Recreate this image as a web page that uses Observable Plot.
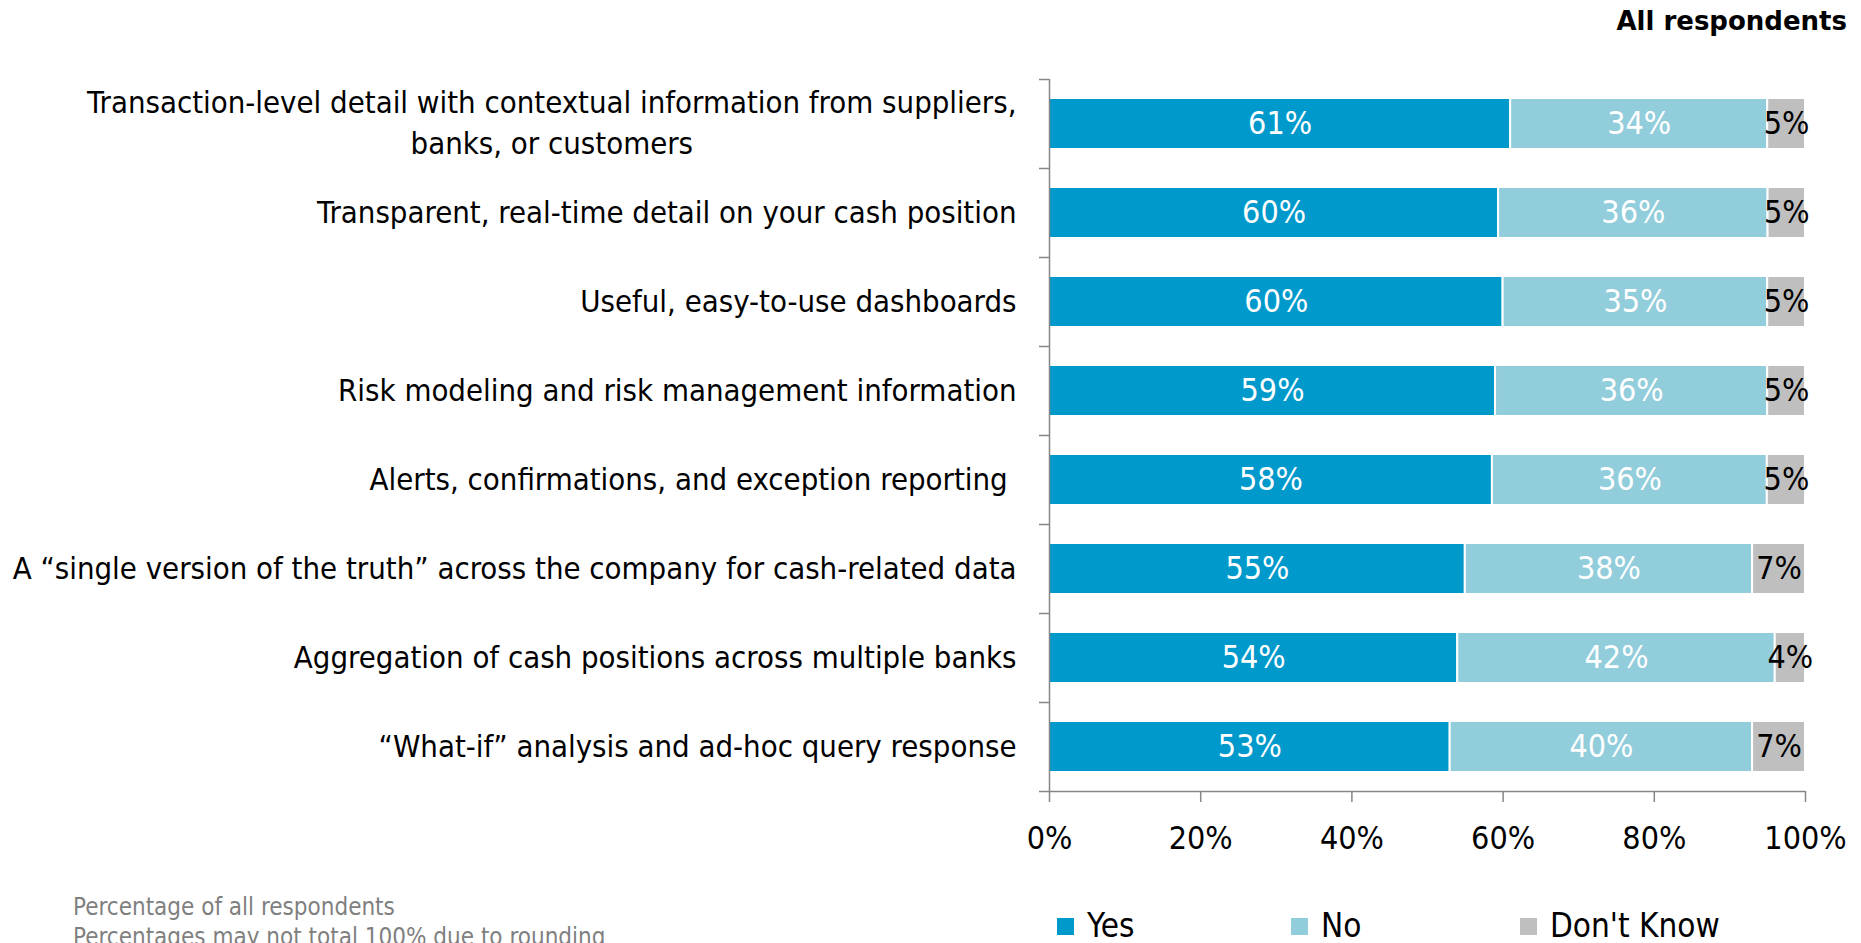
<!DOCTYPE html>
<html>
<head>
<meta charset="utf-8">
<script src="https://cdn.jsdelivr.net/npm/d3@7"></script>
<script src="https://cdn.jsdelivr.net/npm/@observablehq/plot@0.6"></script>
<style>
  html, body { margin: 0; padding: 0; background: #fff; width: 1861px; height: 943px; overflow: hidden; position: relative; }
  #chart { position: absolute; left: 0; top: 0; z-index: 0; }
  .title { position: absolute; right: 14px; top: 6px; font: bold 26px "DejaVu Sans", Verdana, sans-serif; color: #000; white-space: nowrap; z-index: 2; }
  .legend-item { position: absolute; top: 910px; height: 32px; display: flex; align-items: center; font-size: 33px; line-height: 32px; color: #000; white-space: nowrap; z-index: 2; }
  .legend-item .sw { width: 17px; height: 17px; margin-right: 13px; }
  .note { position: absolute; left: 73px; font-size: 24px; line-height: 30px; color: #7f7f7f; white-space: nowrap; z-index: 2; }
</style>
</head>
<body>
<div id="chart"></div>
<div class="title">All respondents</div>
<div id="legend"></div>
<div class="note" id="note1" style="top:892px">Percentage of all respondents</div>
<div class="note" id="note2" style="top:922px">Percentages may not total 100% due to rounding</div>
<script>
const FONT = '"Liberation Sans Narrow", "Arial Narrow", "DejaVu Sans Condensed", sans-serif';
document.querySelectorAll(".note").forEach(e => e.style.fontFamily = FONT);

// ---- data ----
const categories = [
  "Transaction-level detail with contextual information from suppliers,\nbanks, or customers",
  "Transparent, real-time detail on your cash position",
  "Useful, easy-to-use dashboards",
  "Risk modeling and risk management information",
  "Alerts, confirmations, and exception reporting ",
  "A \u201csingle version of the truth\u201d across the company for cash-related data",
  "Aggregation of cash positions across multiple banks",
  "\u201cWhat-if\u201d analysis and ad-hoc query response"
];
const yes      = [61, 60, 60, 59, 58, 55, 54, 53];
const no       = [34, 36, 35, 36, 36, 38, 42, 40];
const dontKnow = [5, 5, 5, 5, 5, 7, 4, 7];
const seriesNames = ["Yes", "No", "Don't Know"];
const seriesColors = ["#0099CC", "#92CDDC", "#BFBFBF"];
const xTicks = [0, 20, 40, 60, 80, 100];

const seriesValues = [yes, no, dontKnow];
const rows = categories.flatMap((cat, i) =>
  seriesNames.map((s, k) => ({cat, series: s, value: seriesValues[k][i]})));

// ---- layout ----
const W = 1861, H = 870, mL = 1049, mR = 56, mT = 79, mB = 79;
const step = (H - mT - mB) / categories.length;
const AXIS = "#868686";
const LABEL_GAP = 33, LINE_H = 41;

// fit category label font so the longest line spans like the reference
const ctx = document.createElement("canvas").getContext("2d");
ctx.font = `32px ${FONT}`;
const longest = Math.max(...categories.flatMap(c => c.split("\n")).map(l => ctx.measureText(l).width));
const LABEL_SIZE = Math.min(32, 32 * 1004 / longest);
ctx.font = `${LABEL_SIZE}px ${FONT}`;

const labelMarks = categories.flatMap(cat => {
  const lines = cat.split("\n");
  const w = Math.max(...lines.map(l => ctx.measureText(l).width));
  return lines.map((line, j) => Plot.text([cat], {
    y: d => d,
    frameAnchor: "left",
    textAnchor: "middle",
    dx: -LABEL_GAP - w / 2,
    dy: (j - (lines.length - 1) / 2) * LINE_H,
    text: () => line,
    fill: "black",
    fontSize: LABEL_SIZE
  }));
});

const chart = Plot.plot({
  width: W, height: H,
  marginLeft: mL, marginRight: mR, marginTop: mT, marginBottom: mB,
  style: {fontFamily: FONT, fontSize: "32px", color: "black", background: "white", overflow: "visible"},
  x: {domain: [0, 1], axis: null},
  y: {domain: categories, paddingInner: 0.43, paddingOuter: 0.215, axis: null},
  color: {domain: seriesNames, range: seriesColors},
  marks: [
    Plot.barX(rows, Plot.stackX({x: "value", y: "cat", fill: "series", offset: "normalize", stroke: "white", strokeWidth: 2})),
    Plot.text(rows, Plot.stackX({
      x: "value", y: "cat", z: "series", offset: "normalize",
      text: d => d.value + "%",
      fill: d => d.series === "Don't Know" ? "black" : "white",
      fontSize: 32
    })),
    Plot.ruleX([0], {stroke: AXIS, strokeWidth: 1.5}),
    Plot.ruleY([categories[categories.length - 1]], {dy: step / 2, stroke: AXIS, strokeWidth: 1.5, insetLeft: -10}),
    Plot.ruleY(categories, {y: d => d, x1: 0, x2: 0, insetLeft: -10, dy: -step / 2, stroke: AXIS, strokeWidth: 1.5}),
    Plot.axisX({
      ticks: xTicks.map(t => t / 100),
      tickFormat: d => Math.round(d * 100) + "%",
      tickSize: 11, tickPadding: 24, label: null,
      stroke: AXIS, strokeWidth: 1.5, fill: "black", fontSize: 32
    }),
    ...labelMarks
  ]
});
document.getElementById("chart").appendChild(chart);

// legend
const legendLeft = [1057, 1291, 1520];
const legend = document.getElementById("legend");
seriesNames.forEach((s, k) => {
  const item = document.createElement("div");
  item.className = "legend-item";
  item.style.left = legendLeft[k] + "px";
  item.style.fontFamily = FONT;
  item.innerHTML = `<div class="sw" style="background:${seriesColors[k]}"></div><span></span>`;
  item.querySelector("span").textContent = s;
  legend.appendChild(item);
});
</script>
</body>
</html>
